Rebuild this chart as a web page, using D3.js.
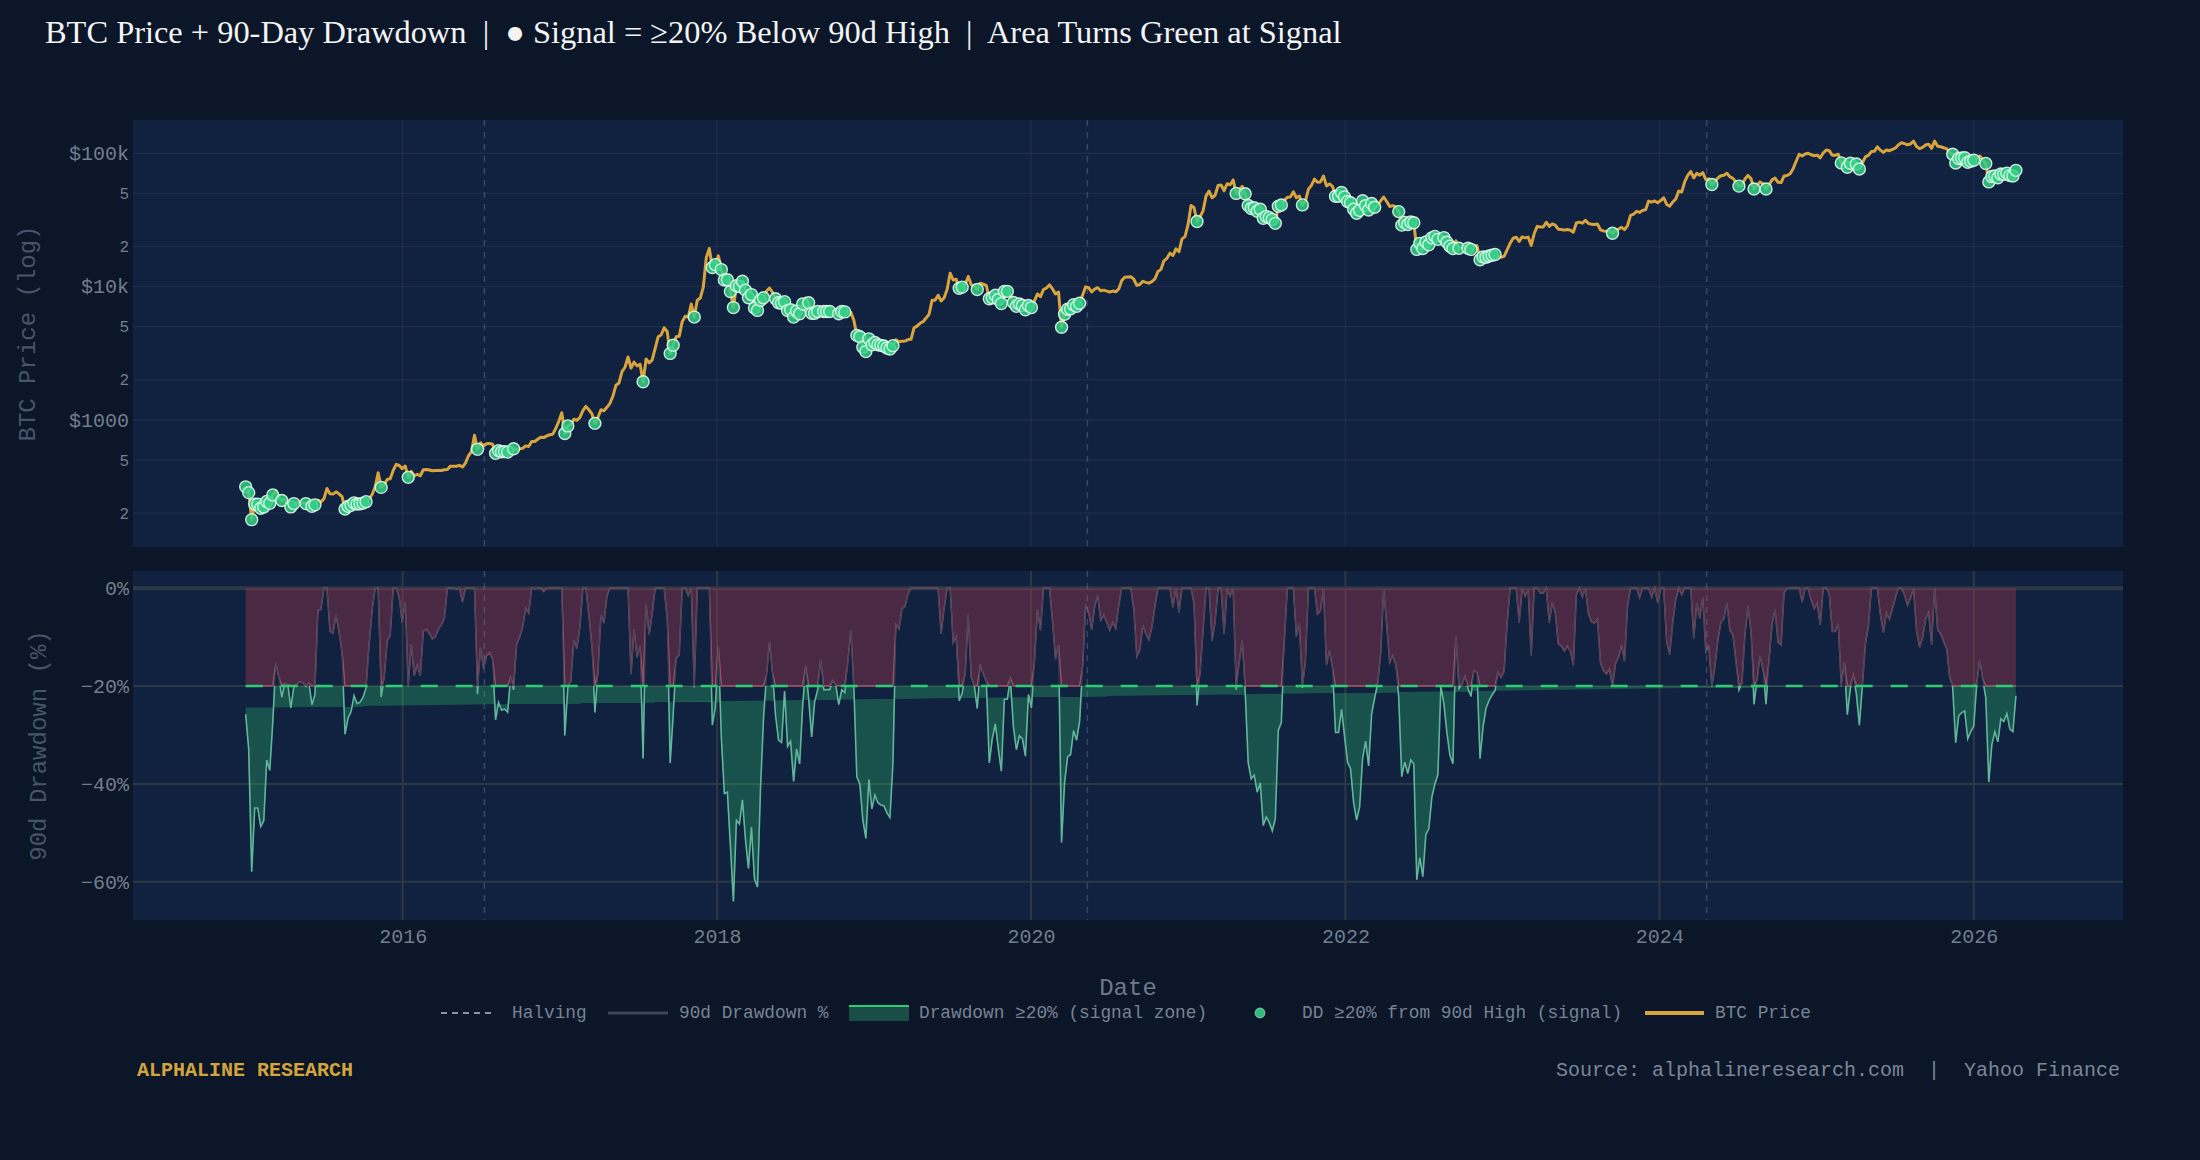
<!DOCTYPE html>
<html lang="en">
<head>
<meta charset="UTF-8">
<title>BTC Price + 90-Day Drawdown</title>
<style>
  html, body { margin: 0; padding: 0; background: #0b1629; }
  svg { display: block; }
</style>
</head>
<body>
<svg id="svg" width="2200" height="1160"></svg>
<script src="https://cdnjs.cloudflare.com/ajax/libs/d3/7.8.5/d3.min.js"></script>
<script>
// BTC closes, one value every 7 days starting at lookbackStart.
// The 2014 values only feed the first 90-day highs and are not drawn.
const lookbackStart = '2014-10-02'
const seriesStart = '2015-01-01'
const lookback2014 = [375, 362, 394, 357, 344, 349, 423, 357, 369, 376, 347, 318, 319]
const price2015 = [314, 284, 178, 233, 233, 217, 222, 244, 236, 273, 294, 261, 248, 253, 236, 222, 235, 236,
  238, 237, 235, 237, 224, 230, 249, 242, 256, 305, 278, 277, 288, 278, 265, 214, 224, 228, 238, 233, 234,
  237, 243, 255, 275, 313, 400, 311, 326, 357, 361, 417, 463, 454, 430]
const price2016 = [450, 370, 410, 380, 390, 380, 422, 424, 420, 415, 417, 416, 416, 422, 424, 449, 449, 448,
  455, 442, 473, 537, 578, 766, 600, 673, 640, 660, 665, 655, 560, 587, 575, 577, 572, 626, 607, 596, 605,
  612, 637, 631, 688, 687, 715, 740, 735, 757, 772, 780, 861, 973]
const price2017 = [1130, 790, 900, 915, 1010, 990, 1040, 1170, 1260, 1190, 1110, 940, 1040, 1190, 1170, 1240,
  1330, 1510, 1820, 1890, 2300, 2480, 2960, 2440, 2710, 2540, 2610, 1930, 2860, 2680, 2800, 3420, 4200, 4330,
  4900, 4600, 3150, 3630, 4200, 4230, 5450, 5990, 5900, 7400, 5900, 7900, 8200, 9900, 16500, 19300, 13900, 14600]
const price2018 = [17000, 13400, 11200, 11250, 9170, 6950, 10150, 10000, 10950, 9400, 8250, 8700, 6900, 6620,
  7900, 8250, 9250, 9750, 9050, 8100, 7550, 7500, 7700, 6600, 6700, 5900, 6550, 6250, 7400, 8200, 7550, 6300,
  6300, 6500, 7000, 6500, 6500, 6500, 6650, 6580, 6250, 6500, 6450, 6400, 6400, 5600, 4300, 4200, 3500, 3250,
  4050, 3650]
const price2019 = [3800, 3650, 3620, 3580, 3460, 3400, 3600, 3980, 3850, 3880, 3900, 4000, 4020, 4900, 5050,
  5300, 5450, 5800, 6200, 7900, 7900, 8600, 7800, 8250, 9550, 12600, 11200, 11350, 9700, 9900, 10400, 11900,
  10300, 10100, 9500, 10600, 10400, 10200, 8100, 8250, 8600, 8000, 7450, 9200, 9200, 8650, 7600, 7100, 7400,
  7200, 6700, 7200]
const price2020 = [6950, 7820, 8800, 8400, 9500, 9750, 10300, 9600, 8800, 9100, 4950, 6200, 6750, 6800, 7300,
  7100, 7500, 8650, 9950, 9800, 9100, 9580, 9800, 9300, 9400, 9250, 9100, 9250, 9130, 9600, 11100, 11750,
  11800, 11850, 11350, 10200, 10350, 10950, 10750, 10600, 10900, 11400, 12950, 13450, 15600, 16300, 17800,
  17100, 19200, 18250, 22800, 23700, 29000]
const price2021 = [40500, 39200, 30800, 33400, 37000, 47900, 52000, 46400, 48400, 57300, 57800, 52400, 59100,
  58100, 63100, 50000, 53500, 56400, 49700, 40600, 38500, 39000, 36800, 38000, 32500, 33600, 32900, 31800,
  29800, 40000, 40900, 44400, 46700, 46900, 51500, 46400, 47800, 41000, 43800, 53800, 57400, 64000, 60600,
  61000, 67500, 56900, 58900, 56500, 47600, 47600, 50800, 47100]
const price2022 = [43500, 42600, 38000, 35500, 37300, 44000, 40500, 37500, 42000, 39400, 40900, 44000, 47000,
  43500, 39900, 40500, 39700, 36500, 28900, 30300, 29200, 30500, 30100, 19000, 21100, 19300, 21600, 20600,
  23200, 23800, 22600, 24400, 23300, 21500, 20100, 19300, 22000, 19400, 19600, 20000, 19400, 19000, 20300,
  20200, 15900, 16700, 16600, 16950, 17200, 17400, 16800, 16600]
const price2023 = [16850, 18850, 21100, 23050, 23450, 21800, 23600, 23200, 23500, 20350, 25000, 28300, 28000,
  28000, 30400, 28250, 29500, 28850, 26950, 26800, 26500, 26800, 26500, 25600, 30000, 30450, 29900, 31450,
  29800, 29300, 29200, 29450, 26650, 26150, 25950, 26250, 25100, 26600, 27000, 27800, 26750, 28700, 34200,
  34900, 36700, 36000, 37300, 37700, 43800, 43000, 43900, 42600]
const price2024 = [44200, 46400, 41300, 40100, 43100, 45300, 52000, 51300, 61200, 68300, 73000, 65500, 70700,
  68500, 71600, 63500, 64300, 58300, 61200, 65200, 67900, 68400, 70800, 66700, 64800, 60900, 56700, 57700,
  64100, 68200, 64600, 54000, 57500, 61000, 59000, 54000, 58100, 63200, 65200, 60600, 60300, 67600, 68100,
  70200, 76500, 87200, 98400, 95600, 98800, 100000, 97500, 95800]
const price2025 = [96900, 92500, 100500, 106000, 104700, 96600, 96600, 98300, 84700, 90000, 78600, 84200,
  87200, 83100, 76300, 84900, 93900, 96500, 103000, 103700, 111700, 105600, 101600, 106000, 104600, 107000,
  109600, 116000, 120000, 118300, 115800, 117500, 123300, 112500, 108400, 110700, 115500, 117100, 109000,
  123500, 113000, 112000, 110000, 108300, 101000, 98500, 84500, 91300, 92100, 92500, 85500, 87300]
const price2026 = [88700, 91000, 95500, 89500, 84000, 61000, 67000, 67500, 65500, 70000, 69500, 71000, 68000,
  67500, 74500]

const halvings = ['2016-07-09', '2020-05-11', '2024-04-20']
const threshold = -20
const windowDays = 91
// lower edge of the green signal-zone fill, as it is drawn in the reference
const zoneFloor = [['2015-01-01', -24.4], ['2025-03-01', -20], ['2026-04-09', -20]]

const priceTicks = [200, 500, 1000, 2000, 5000, 10000, 20000, 50000, 100000]
const priceTickLabels = ['2', '5', '$1000', '2', '5', '$10k', '2', '5', '$100k']
const ddTicks = [0, -20, -40, -60]
const ddTickLabels = ['0%', '\u221220%', '\u221240%', '\u221260%']
const yearTicks = [2016, 2018, 2020, 2022, 2024, 2026]

const MONO = '"Liberation Mono", "DejaVu Sans Mono", monospace'
const parse = d3.timeParse('%Y-%m-%d')

const closes = [].concat(lookback2014, price2015, price2016, price2017, price2018, price2019,
  price2020, price2021, price2022, price2023, price2024, price2025, price2026)
const rows = closes.map((v, i) => ({ date: d3.timeDay.offset(parse(lookbackStart), 7 * i), price: v }))
rows.forEach(r => {
  const from = d3.timeDay.offset(r.date, -windowDays - 1)
  const high = d3.max(rows.filter(o => o.date > from && o.date <= r.date), o => o.price)
  r.dd = (r.price / high - 1) * 100
})
const data = rows.filter(r => r.date >= parse(seriesStart))
const signals = data.filter(r => r.dd <= threshold)

const W = 2200, H = 1160
const left = 133, right = 2123
const top1 = 120, bot1 = 547, top2 = 571, bot2 = 920

const x = d3.scaleTime().domain([parse('2014-04-14'), parse('2026-12-14')]).range([left, right])
const yP = d3.scaleLog().domain([111, 177800]).range([bot1, top1])
const yD = d3.scaleLinear().domain([-67.8, 3.5]).range([bot2, top2])

const svg = d3.select('#svg')
svg.append('rect').attr('width', W).attr('height', H).attr('fill', '#0b1629')

const defs = svg.append('defs')
defs.append('clipPath').attr('id', 'clipTop').append('rect')
  .attr('x', left).attr('y', top1).attr('width', right - left).attr('height', bot1 - top1)
defs.append('clipPath').attr('id', 'clipBot').append('rect')
  .attr('x', left).attr('y', top2).attr('width', right - left).attr('height', bot2 - top2)
defs.append('clipPath').attr('id', 'clipBelow').append('rect')
  .attr('x', left).attr('y', yD(threshold)).attr('width', right - left).attr('height', bot2 - yD(threshold))

// ---------- panel backgrounds ----------
svg.append('rect').attr('x', left).attr('y', top1).attr('width', right - left).attr('height', bot1 - top1)
  .attr('fill', '#112240')
svg.append('rect').attr('x', left).attr('y', top2).attr('width', right - left).attr('height', bot2 - top2)
  .attr('fill', '#112240')

// ---------- top panel: price ----------
const topG = svg.append('g').attr('clip-path', 'url(#clipTop)')

topG.selectAll('.hgrid').data(priceTicks).enter().append('line')
  .attr('x1', left).attr('x2', right)
  .attr('y1', d => yP(d)).attr('y2', d => yP(d))
  .attr('stroke', 'rgba(255,255,255,0.045)').attr('stroke-width', 1.5)
topG.selectAll('.vgrid').data(yearTicks).enter().append('line')
  .attr('x1', d => x(new Date(d, 0, 1))).attr('x2', d => x(new Date(d, 0, 1)))
  .attr('y1', top1).attr('y2', bot1)
  .attr('stroke', 'rgba(255,255,255,0.045)').attr('stroke-width', 1.5)
topG.selectAll('.halving').data(halvings).enter().append('line')
  .attr('x1', d => x(parse(d))).attr('x2', d => x(parse(d)))
  .attr('y1', top1).attr('y2', bot1)
  .attr('stroke', 'rgba(120,140,175,0.35)').attr('stroke-width', 1.5).attr('stroke-dasharray', '6,6')

topG.append('path')
  .datum(data)
  .attr('d', d3.line().x(d => x(d.date)).y(d => yP(d.price)))
  .attr('fill', 'none')
  .attr('stroke', '#d9a43b')
  .attr('stroke-width', 3)
  .attr('stroke-linejoin', 'round')

topG.selectAll('.sig').data(signals).enter().append('circle')
  .attr('cx', d => x(d.date))
  .attr('cy', d => yP(d.price))
  .attr('r', 6)
  .attr('fill', '#34cf86')
  .attr('fill-opacity', 0.85)
  .attr('stroke', 'rgba(230,255,242,0.85)')
  .attr('stroke-width', 1.4)

// ---------- bottom panel: drawdown ----------
const botG = svg.append('g').attr('clip-path', 'url(#clipBot)')

botG.selectAll('.hgrid').data(ddTicks.slice(1)).enter().append('line')
  .attr('x1', left).attr('x2', right)
  .attr('y1', d => yD(d)).attr('y2', d => yD(d))
  .attr('stroke', '#2c3843').attr('stroke-width', 2)
botG.selectAll('.vgrid').data(yearTicks).enter().append('line')
  .attr('x1', d => x(new Date(d, 0, 1))).attr('x2', d => x(new Date(d, 0, 1)))
  .attr('y1', top2).attr('y2', bot2)
  .attr('stroke', '#2c3843').attr('stroke-width', 2)
botG.append('line')
  .attr('x1', left).attr('x2', right).attr('y1', yD(0)).attr('y2', yD(0))
  .attr('stroke', '#2f3946').attr('stroke-width', 4)

// red: from 0 down to the drawdown, stopped at the threshold
const clipped = d => yD(Math.max(d.dd, threshold))
botG.append('path')
  .datum(data)
  .attr('d', d3.area().x(d => x(d.date)).y0(yD(0)).y1(clipped))
  .attr('fill', 'rgba(220,60,80,0.28)')
botG.append('path')
  .datum(data)
  .attr('d', d3.line().x(d => x(d.date)).y(clipped))
  .attr('fill', 'none')
  .attr('stroke', 'rgba(225,105,125,0.6)')
  .attr('stroke-width', 1.5)

// green: signal points (plus the spots where the curve crosses the threshold)
// joined in order, then closed back along the floor line
const zoneEdge = []
data.forEach((d, i) => {
  const p = data[i - 1]
  if (p && (p.dd > threshold) !== (d.dd > threshold)) {
    const t = (threshold - p.dd) / (d.dd - p.dd)
    zoneEdge.push([x(p.date) + t * (x(d.date) - x(p.date)), yD(threshold)])
  }
  if (d.dd <= threshold) zoneEdge.push([x(d.date), yD(d.dd)])
})
const zonePts = zoneEdge.concat(zoneFloor.slice().reverse().map(([d, v]) => [x(parse(d)), yD(v)]))
botG.append('path')
  .attr('d', d3.line()(zonePts) + 'Z')
  .attr('fill', 'rgba(46,204,113,0.28)')
  .attr('fill-rule', 'evenodd')

const ddLine = d3.line().x(d => x(d.date)).y(d => yD(d.dd))
botG.append('path')
  .datum(data)
  .attr('d', ddLine)
  .attr('fill', 'none')
  .attr('stroke', '#3b4657')
  .attr('stroke-width', 1)
botG.append('path')
  .datum(data)
  .attr('d', ddLine)
  .attr('clip-path', 'url(#clipBelow)')
  .attr('fill', 'none')
  .attr('stroke', 'rgba(100,195,160,0.9)')
  .attr('stroke-width', 1.6)

botG.selectAll('.halving').data(halvings).enter().append('line')
  .attr('x1', d => x(parse(d))).attr('x2', d => x(parse(d)))
  .attr('y1', top2).attr('y2', bot2)
  .attr('stroke', 'rgba(120,140,175,0.35)').attr('stroke-width', 1.5).attr('stroke-dasharray', '6,6')

botG.append('line')
  .attr('x1', x(data[0].date)).attr('x2', x(data[data.length - 1].date))
  .attr('y1', yD(threshold)).attr('y2', yD(threshold))
  .attr('stroke', '#2ecc71').attr('stroke-width', 2.5).attr('stroke-dasharray', '17,18')

// ---------- axes ----------
const yAxisP = svg.append('g')
  .attr('transform', `translate(${left},0)`)
  .call(d3.axisLeft(yP).tickValues(priceTicks).tickFormat((d, i) => priceTickLabels[i]).tickSize(0).tickPadding(4))
yAxisP.select('.domain').remove()
yAxisP.selectAll('text')
  .style('font-family', MONO)
  .style('font-size', (d, i) => priceTickLabels[i].length > 1 ? '20px' : '16px')
  .attr('fill', '#737e8d')

const yAxisD = svg.append('g')
  .attr('transform', `translate(${left},0)`)
  .call(d3.axisLeft(yD).tickValues(ddTicks).tickFormat((d, i) => ddTickLabels[i]).tickSize(0).tickPadding(4))
yAxisD.select('.domain').remove()
yAxisD.selectAll('text').style('font-family', MONO).style('font-size', '20px').attr('fill', '#737e8d')

const xAxis = svg.append('g')
  .attr('transform', `translate(0,${bot2})`)
  .call(d3.axisBottom(x).tickValues(yearTicks.map(y => new Date(y, 0, 1)))
    .tickFormat(d3.timeFormat('%Y')).tickSize(0).tickPadding(9))
xAxis.select('.domain').remove()
xAxis.selectAll('text').style('font-family', MONO).style('font-size', '20px').attr('fill', '#737e8d')

svg.append('text')
  .attr('transform', `translate(28,${(top1 + bot1) / 2}) rotate(-90)`)
  .attr('text-anchor', 'middle').attr('dominant-baseline', 'central')
  .style('font-family', MONO).style('font-size', '24px')
  .attr('fill', '#46556b')
  .text('BTC Price (log)')
svg.append('text')
  .attr('transform', `translate(39,${(top2 + bot2) / 2}) rotate(-90)`)
  .attr('text-anchor', 'middle').attr('dominant-baseline', 'central')
  .style('font-family', MONO).style('font-size', '24px')
  .attr('fill', '#46556b')
  .text('90d Drawdown (%)')
svg.append('text')
  .attr('x', 1128).attr('y', 988)
  .attr('text-anchor', 'middle').attr('dominant-baseline', 'central')
  .style('font-family', MONO).style('font-size', '24px')
  .attr('fill', '#6d7a8d')
  .text('Date')

// ---------- title ----------
const title = svg.append('text')
  .attr('x', 45).attr('y', 43)
  .style('font-family', '"Liberation Serif", "DejaVu Serif", serif')
  .style('font-size', '30px')
  .style('white-space', 'pre')
  .attr('fill', '#f4f4f4')
  .text('BTC Price + 90-Day Drawdown  |  \u25CF Signal = \u226520% Below 90d High  |  Area Turns Green at Signal')
const tw = title.node().getComputedTextLength()
title.style('font-size', (30 * 1297 / tw) + 'px')

// ---------- legend ----------
const ly = 1013
const legend = svg.append('g')
legend.append('line').attr('x1', 441).attr('x2', 494).attr('y1', ly).attr('y2', ly)
  .attr('stroke', '#8794a6').attr('stroke-width', 2).attr('stroke-dasharray', '6,5')
legend.append('line').attr('x1', 608).attr('x2', 668).attr('y1', ly).attr('y2', ly)
  .attr('stroke', '#3b4657').attr('stroke-width', 3)
legend.append('rect').attr('x', 849).attr('y', ly - 7).attr('width', 60).attr('height', 15)
  .attr('fill', '#1a4d45')
legend.append('line').attr('x1', 849).attr('x2', 909).attr('y1', ly - 7).attr('y2', ly - 7)
  .attr('stroke', '#2ecc71').attr('stroke-width', 2)
legend.append('circle').attr('cx', 1260).attr('cy', ly).attr('r', 5)
  .attr('fill', '#2ebd7a').attr('stroke', 'rgba(225,255,240,0.5)').attr('stroke-width', 1)
legend.append('line').attr('x1', 1645).attr('x2', 1704).attr('y1', ly).attr('y2', ly)
  .attr('stroke', '#d9a43b').attr('stroke-width', 4)

const legendLabels = [
  [512, 'Halving'],
  [679, '90d Drawdown %'],
  [919, 'Drawdown \u226520% (signal zone)'],
  [1302, 'DD \u226520% from 90d High (signal)'],
  [1715, 'BTC Price']
]
legend.selectAll('.lt').data(legendLabels).enter().append('text')
  .attr('x', d => d[0]).attr('y', ly)
  .attr('dominant-baseline', 'central')
  .style('font-family', MONO).style('font-size', '17.8px')
  .attr('fill', '#788392')
  .text(d => d[1])

// ---------- footer ----------
svg.append('text')
  .attr('x', 137).attr('y', 1070)
  .attr('dominant-baseline', 'central')
  .style('font-family', MONO).style('font-size', '20px').style('font-weight', 'bold')
  .attr('fill', '#d4a53c')
  .text('ALPHALINE RESEARCH')
svg.append('text')
  .attr('x', 2120).attr('y', 1070)
  .attr('text-anchor', 'end').attr('dominant-baseline', 'central')
  .style('font-family', MONO).style('font-size', '20px').style('white-space', 'pre')
  .attr('fill', '#7b8798')
  .text('Source: alphalineresearch.com  |  Yahoo Finance')
</script>
</body>
</html>
